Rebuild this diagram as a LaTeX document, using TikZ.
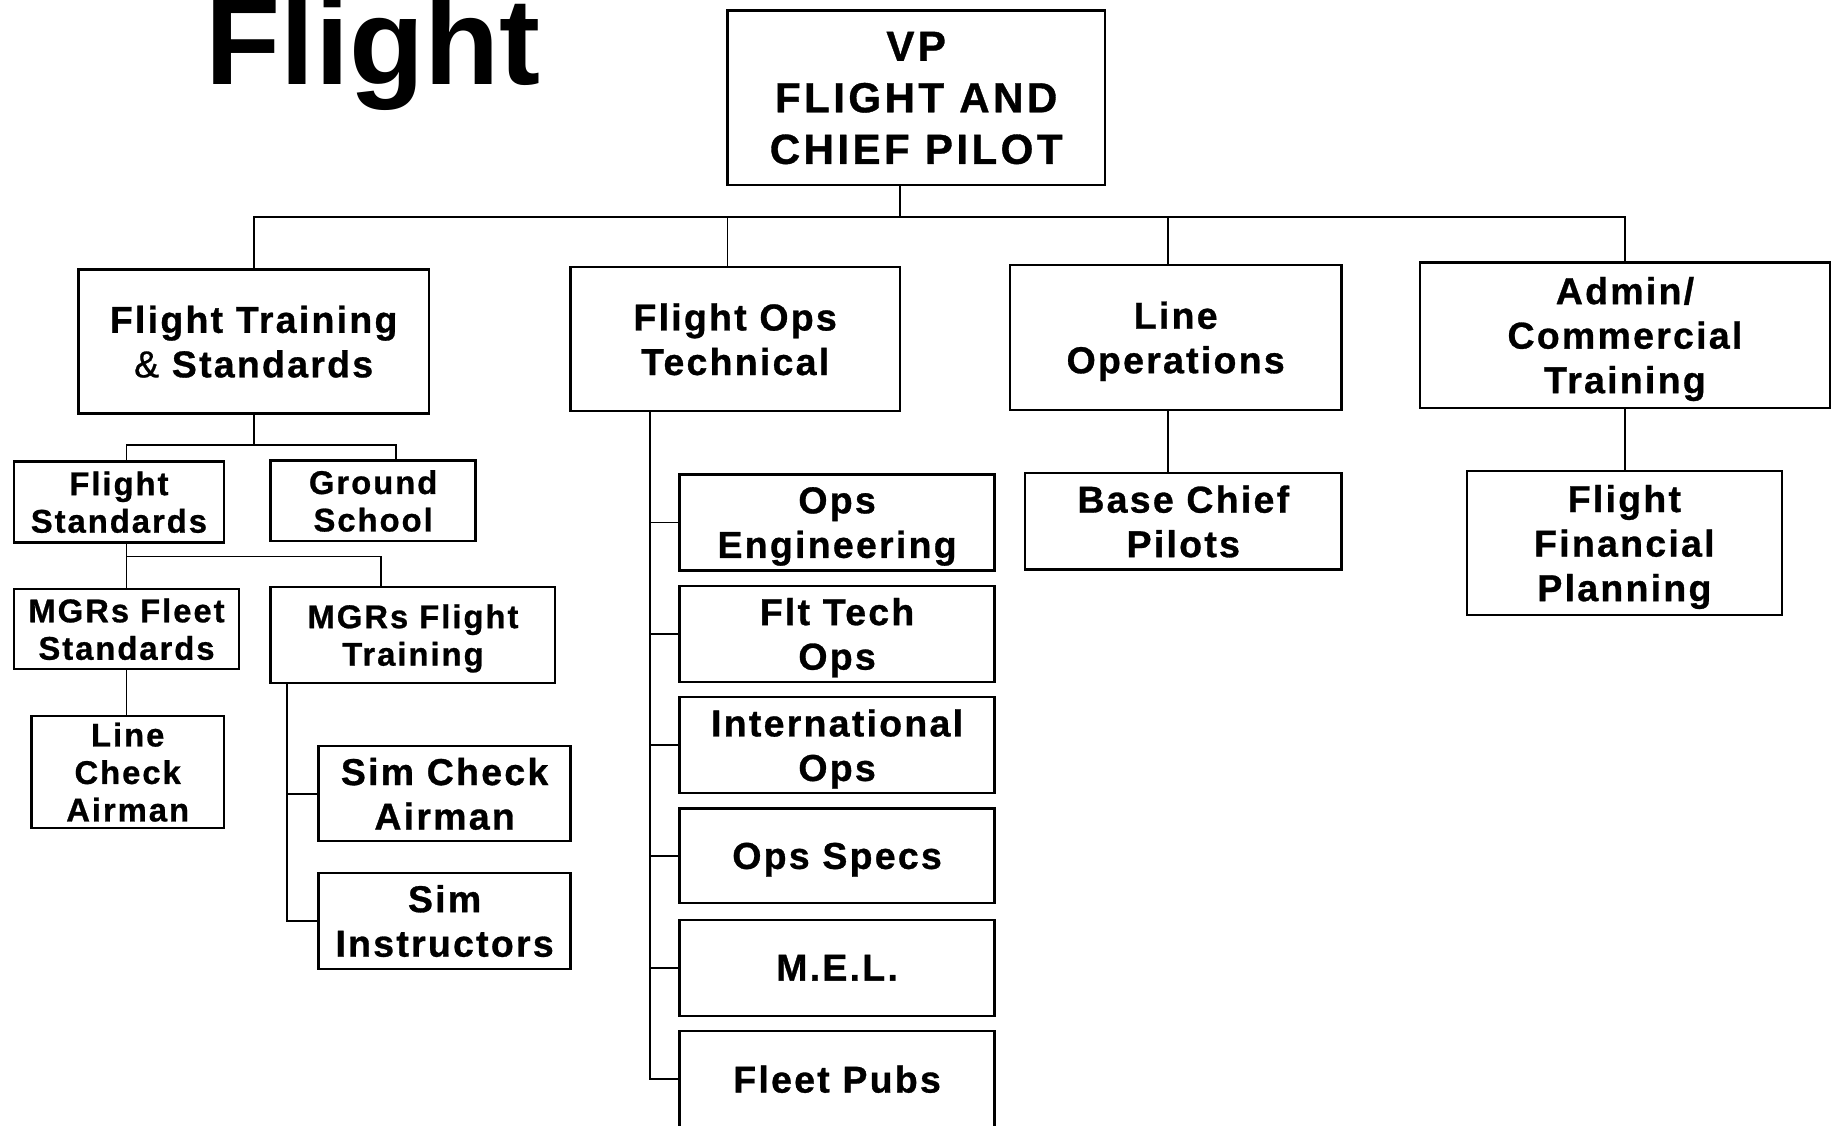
\documentclass[tikz,border=0pt]{standalone}
\usepackage{fontspec}
\setmainfont{Liberation Sans}
\newfontfamily\bxf{Liberation Sans}[LetterSpace=6, FakeBold=0.8]
\newfontfamily\vpf{Liberation Sans}[LetterSpace=8, FakeBold=0.8]
\begin{document}
\begin{tikzpicture}[x=0.5pt,y=-0.5pt,
  bx/.style 2 args={draw=black, line width=1pt, fill=white, inner sep=0pt, align=center,
     text depth=0pt, minimum width=#1*0.5pt, minimum height=#2*0.5pt},
  big/.style={font=\bxf\bfseries\fontsize{16}{19}\selectfont},
  small/.style={font=\bxf\bfseries\fontsize{14}{16}\selectfont},
  conn/.style={draw=black, line width=0.8pt}]
\useasboundingbox (0,0) rectangle (1568,961);
\fill[white] (0,0) rectangle (1568,961);

% title
\node[anchor=base, inner sep=0pt, font=\bfseries\fontsize{52.5}{60}\selectfont] (title) at (318.5,72) {Flight};

% top
\node[bx={322}{149}, font=\vpf\bfseries\fontsize{18}{22}\selectfont] (vp) at (782,83.5) {VP\\FLIGHT AND\\CHIEF PILOT};

% level 2
\node[bx={299}{123}, big] (fts) at (216.5,291.5) {Flight Training\\{\mdseries\&} Standards};
\node[bx={281}{123}, big] (fot) at (627.5,289.5) {Flight Ops\\Technical};
\node[bx={283}{124}, big] (lo) at (1003.5,288) {Line\\Operations};
\node[bx={350}{124}, big] (adm) at (1387,286) {Admin/\\Commercial\\Training};

% flight training subtree
\node[bx={179}{69}, small] (fs) at (101.5,428.5) {Flight\\Standards};
\node[bx={175}{69}, small] (gs) at (318.5,427.5) {Ground\\School};
\node[bx={192}{68}, small] (mfs) at (108,537) {MGRs Fleet\\Standards};
\node[bx={243}{82}, small] (mft) at (352.5,542) {MGRs Flight\\Training};
\node[bx={164}{96}, small] (lca) at (109,659) {Line\\Check\\Airman};
\node[bx={215}{81}, big] (sca) at (379.5,677.5) {Sim Check\\Airman};
\node[bx={215}{82}, big] (si) at (379.5,786) {Sim\\Instructors};

% flight ops technical subtree
\node[bx={269}{82}, big] (oe) at (714.5,446) {Ops\\Engineering};
\node[bx={269}{82}, big] (ftt) at (714.5,541) {Flt Tech\\Ops};
\node[bx={269}{82}, big] (io) at (714.5,636) {International\\Ops};
\node[bx={269}{81}, big] (os) at (714.5,730.5) {Ops Specs};
\node[bx={269}{82}, big] (mel) at (714.5,826) {M.E.L.};
\node[bx={269}{82}, big] (fp) at (714.5,921) {Fleet Pubs};

% line ops / admin
\node[bx={270}{82}, big] (bcp) at (1010,445) {Base Chief\\Pilots};
\node[bx={269}{123}, big] (ffp) at (1386.5,463.5) {Flight\\Financial\\Planning};

% junction coordinates
\coordinate (vpj) at (768,185);
\coordinate (d2) at (621,185);
\coordinate (d3) at (997,185);
\coordinate (j1) at (217,380);
\coordinate (j1a) at (108,380);
\coordinate (j1b) at (338,380);
\coordinate (j2a) at (108,475);
\coordinate (j2b) at (325,475);
\coordinate (s1) at (245,0);
\coordinate (s2) at (555,0);

% top connectors
\draw[conn] (vp.south -| vpj) -- (vpj);
\draw[conn] (fts.north) -- (fts.north |- vpj) -- (adm.north |- vpj) -- (adm.north);
\draw[conn] (d2) -- (d2 |- fot.north);
\draw[conn] (d3) -- (d3 |- lo.north);

% flight training connectors
\draw[conn] (fts.south -| j1) -- (j1);
\draw[conn] (j1a |- fs.north) -- (j1a) -- (j1b) -- (j1b |- gs.north);
\draw[conn] (j2a |- fs.south) -- (j2a) -- (j2b) -- (j2b |- mft.north);
\draw[conn] (j2a) -- (j2a |- mfs.north);
\draw[conn] (mfs.south) -- (mfs.south |- lca.north);
\draw[conn] (s1 |- mft.south) -- (s1 |- si.west) -- (si.west);
\draw[conn] (s1 |- sca.west) -- (sca.west);

% flight ops technical connectors
\draw[conn] (s2 |- fot.south) -- (s2 |- fp.west) -- (fp.west);
\foreach \n in {oe,ftt,io,os,mel}
  \draw[conn] (s2 |- \n.west) -- (\n.west);

% line ops / admin connectors
\draw[conn] (d3 |- lo.south) -- (d3 |- bcp.north);
\draw[conn] (adm.south) -- (adm.south |- ffp.north);
\end{tikzpicture}
\end{document}
